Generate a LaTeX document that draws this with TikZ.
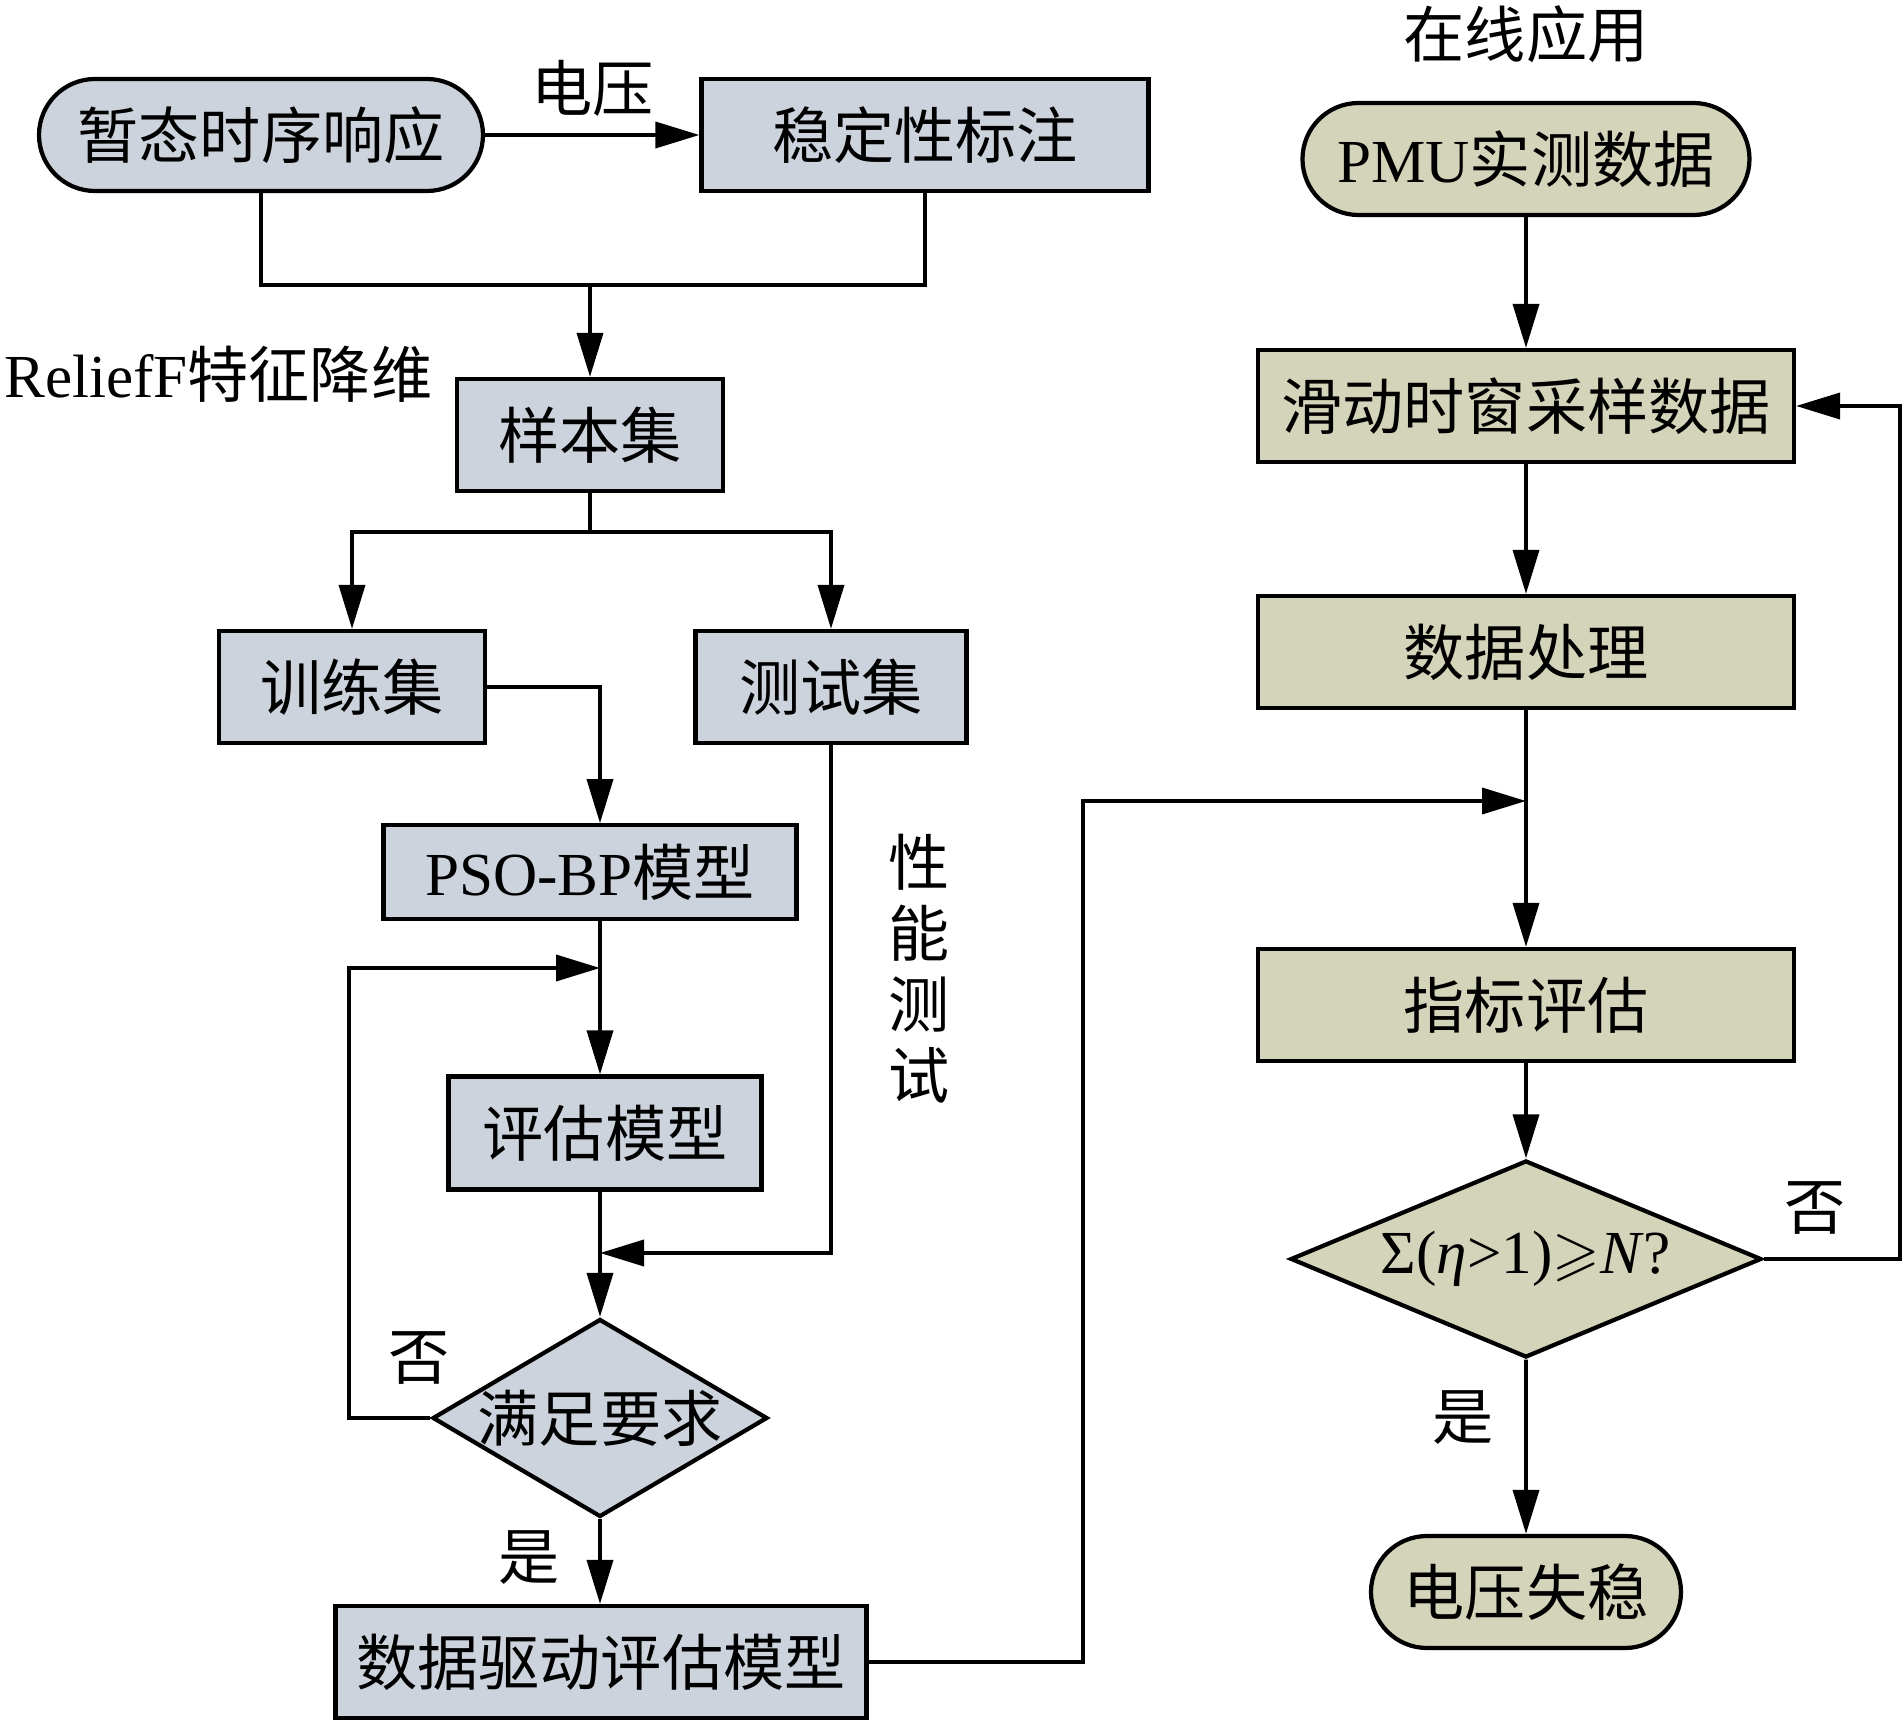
\documentclass[tikz,border=0pt]{standalone}
\usepackage{amsmath}
\usepackage{amssymb}
\usepackage{fontspec}
\setmainfont{Liberation Serif}
\newfontfamily\cjkfont{Noto Sans CJK SC}
\usetikzlibrary{shapes,arrows.meta,positioning,calc}

\definecolor{offfill}{RGB}{204,211,220}
\definecolor{onfill}{RGB}{212,212,186}

\tikzset{
    box/.style={draw, line width=1.2pt, minimum height=1.12cm, inner sep=0pt},
    term/.style={box, rounded rectangle},
    decide/.style={draw, diamond, line width=1.2pt, inner sep=0pt},
    note/.style={inner sep=0pt},
    line/.style={line width=1.05pt},
    arr/.style={line, -{Triangle[length=4.4mm,width=2.6mm]}}
}

\begin{document}
\begin{tikzpicture}[font=\fontsize{17.4}{20.2}\selectfont\cjkfont]
    \useasboundingbox (0,0) rectangle (19.04,17.22);

    % Offline part: data and labelling
    \node[term, fill=offfill, minimum width=4.44cm] (resp) at (2.61,15.87) {暂态时序响应};
    \node[box, fill=offfill, minimum width=4.47cm] (mark) at (9.25,15.87) {稳定性标注};
    \draw[arr] (resp) -- (mark) node[note, midway, above=0.17cm] (volt) {电压};
    \coordinate (merge) at (5.90,14.37);
    \draw[line] (resp.south) |- (merge -| mark.south) -- (mark.south);

    % Sample set
    \node[box, fill=offfill, minimum width=2.66cm] (samples) at (5.90,12.87) {样本集};
    \draw[arr] (merge) -- (samples.north);
    \node[note, anchor=east] (relief) at (4.33,13.48) {{\rmfamily ReliefF}特征降维};

    % Train / test split
    \node[box, fill=offfill, minimum width=2.66cm] (train) at (3.52,10.35) {训练集};
    \node[box, fill=offfill, minimum width=2.71cm] (test) at (8.31,10.35) {测试集};
    \coordinate (split) at (5.90,11.90);
    \draw[line] (samples.south) -- (split);
    \draw[arr] (split) -| (train.north);
    \draw[arr] (split) -| (test.north);

    % Model training loop
    \coordinate (col) at (6.0,0);
    \node[box, fill=offfill, minimum width=4.13cm, minimum height=0.935cm] (pso) at (5.90,8.50) {{\rmfamily PSO-BP}模型};
    \node[box, fill=offfill, minimum width=3.13cm, minimum height=1.13cm] (eval) at (6.05,5.89) {评估模型};
    \node[decide, fill=offfill, minimum width=3.35cm, minimum height=1.98cm, aspect=1.69, inner xsep=-0.25cm] (check) at (6.0,3.04) {满足要求};
    \node[box, fill=offfill, minimum width=5.31cm] (model) at (6.01,0.60) {数据驱动评估模型};
    \draw[arr] (train.east) -| (pso.north -| col);
    \draw[arr] (pso.south -| col) -- (eval.north -| col);
    \draw[arr] (eval.south -| col) -- (check.north);
    \coordinate (join) at (6.0,4.69);
    \draw[arr] (test.south) |- (join);
    \coordinate (back) at (3.49,7.54);
    \coordinate (loop) at (6.0,7.54);
    \draw[arr] (check.west) -| (back) -- (loop);
    \draw[arr] (check.south) -- (model.north -| col);
    \node[note] (no1) at (4.19,3.64) {否};
    \node[note] (yes1) at (5.29,1.64) {是};
    \node[note, align=center] (perf) at (9.19,7.53) {性\\能\\测\\试};

    % Online application
    \node[note] (online) at (15.26,16.88) {在线应用};
    \node[term, fill=onfill, minimum width=4.47cm] (pmu) at (15.26,15.63) {{\rmfamily PMU}实测数据};
    \node[box, fill=onfill, minimum width=5.36cm] (window) at (15.26,13.16) {滑动时窗采样数据};
    \node[box, fill=onfill, minimum width=5.36cm] (proc) at (15.26,10.70) {数据处理};
    \node[box, fill=onfill, minimum width=5.36cm] (index) at (15.26,7.17) {指标评估};
    \node[decide, fill=onfill, minimum width=4.71cm, minimum height=1.97cm, aspect=2.39, inner xsep=-0.05cm] (judge) at (15.26,4.63)
        {{\rmfamily Σ(\textit{η}>1)}$\geqslant${\rmfamily\textit{N}?}};
    \node[term, fill=onfill, minimum width=3.10cm] (unstable) at (15.26,1.30) {电压失稳};
    \draw[arr] (pmu) -- (window);
    \draw[arr] (window) -- (proc);
    \draw[arr] (proc) -- (index);
    \draw[arr] (index) -- (judge);
    \draw[arr] (judge) -- (unstable);
    \coordinate (rloop) at (19.0,13.16);
    \draw[arr] (judge.east) -| (rloop) -- (window.east);
    \node[note] (no2) at (18.15,5.14) {否};
    \node[note] (yes2) at (14.63,3.04) {是};

    % Model goes online
    \coordinate (turn) at (10.83,9.21);
    \coordinate (entry) at (15.26,9.21);
    \draw[arr] (model.east) -| (turn) -- (entry);
\end{tikzpicture}
\end{document}
